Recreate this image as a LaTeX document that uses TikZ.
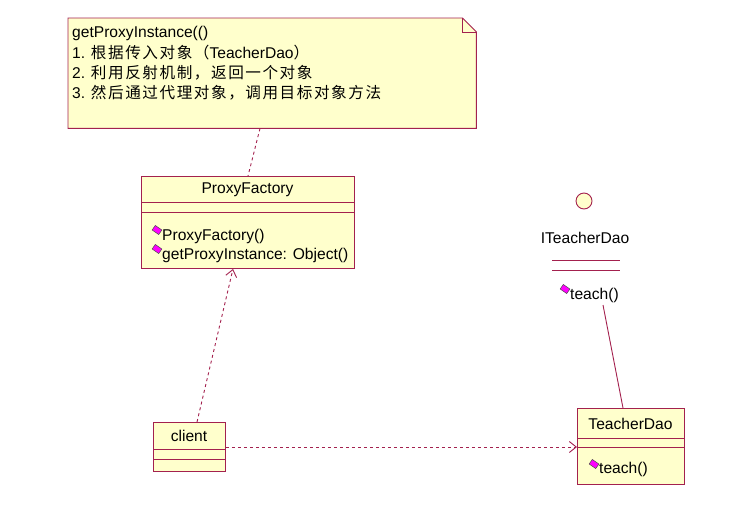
\documentclass[tikz,border=0pt]{standalone}
\usepackage{fontspec}
\setmainfont{Liberation Sans}
\newfontfamily\cjk[LetterSpace=10]{Noto Sans CJK SC}
\usetikzlibrary{arrows.meta}
\definecolor{bord}{HTML}{A3214E}
\definecolor{fillc}{HTML}{FFFFCC}
\definecolor{mag}{HTML}{FF00FF}
\begin{document}
\begin{tikzpicture}[x=1pt,y=-1pt,
  box/.style={draw=bord, fill=fillc, line width=0.9pt, anchor=north west, inner sep=0pt},
  sep/.style={draw=bord, line width=0.9pt},
  txt/.style={font=\fontsize{15.6}{17}\selectfont, inner sep=0pt},
  ltxt/.style={txt, anchor=west},
  dep/.style={draw=bord, line width=0.9pt, dash pattern=on 3pt off 3pt, -{Straight Barb[length=7pt,width=11pt]}},
  op/.style={draw=black!70, fill=mag, line width=0.5pt, minimum width=8pt, minimum height=5.5pt, inner sep=0pt, rotate=-35, shape=rectangle}
]
\path[use as bounding box] (0,0) rectangle (743,514);

% note
\node[anchor=north west, minimum width=408pt, minimum height=110pt, inner sep=0pt] (note) at (68,18) {};
\draw[bord, fill=fillc, line width=0.9pt] (note.north west) -- ([xshift=-14pt]note.north east) -- ([yshift=-14pt]note.north east) -- (note.south east) -- (note.south west) -- cycle;
\draw[bord, line width=0.9pt] ([xshift=-14pt]note.north east) -- ([xshift=-14pt,yshift=-14pt]note.north east) -- ([yshift=-14pt]note.north east);
\node[ltxt] (n1) at (72,33) {getProxyInstance(()};
\node[ltxt] (n2) at (72,53) {1. {\cjk 根据传入对象（}TeacherDao{\cjk ）}};
\node[ltxt] (n3) at (72,73) {2. {\cjk 利用反射机制，返回一个对象}};
\node[ltxt] (n4) at (72,93) {3. {\cjk 然后通过代理对象，调用目标对象方法}};

% ProxyFactory
\node[box, minimum width=213pt, minimum height=92pt] (pf) at (141,176) {};
\draw[sep] (141,202) -- (354,202);
\draw[sep] (141,212) -- (354,212);
\node[txt] (pft) at (247.5,190) {ProxyFactory};
\node[op] (d1) at (157,230) {};
\node[ltxt] (pf1) at (162,236) {ProxyFactory()};
\node[op] (d2) at (157,249) {};
\node[ltxt] (pf2) at (162,255) {getProxyInstance: Object()};

% ITeacherDao interface
\node[draw=bord, fill=fillc, line width=0.9pt, circle, minimum size=16pt, inner sep=0pt] (ic) at (584,201) {};
\node[txt] (it) at (585,238) {ITeacherDao};
\draw[sep] (552,260) -- (620,260);
\draw[sep] (552,270) -- (620,270);
\node[op] (d3) at (565,289) {};
\node[ltxt] (it1) at (570,295) {teach()};
\coordinate (itb) at (603,305);

% client
\node[box, minimum width=72pt, minimum height=49pt] (cl) at (153,422) {};
\draw[sep] (153,449) -- (225,449);
\draw[sep] (153,459) -- (225,459);
\node[txt] (clt) at (189,436) {client};

% TeacherDao
\node[box, minimum width=107pt, minimum height=76pt] (td) at (577,408) {};
\draw[sep] (577,438) -- (684,438);
\draw[sep] (577,447) -- (684,447);
\node[txt] (tdt) at (630.5,424) {TeacherDao};
\node[op] (d4) at (594,464) {};
\node[ltxt] (td1) at (599,469) {teach()};

% connectors
\draw[bord, line width=0.9pt, dash pattern=on 3pt off 3pt] (note.south -| 260,0) -- (pf.north -| 248,0);
\draw[dep] (cl.north -| 197,0) -- (pf.south -| 233,0);
\draw[dep] (cl.east |- 0,447) -- (td.west |- 0,447);
\draw[bord, line width=0.9pt] (itb) -- (td.north -| 623,0);
\end{tikzpicture}
\end{document}
